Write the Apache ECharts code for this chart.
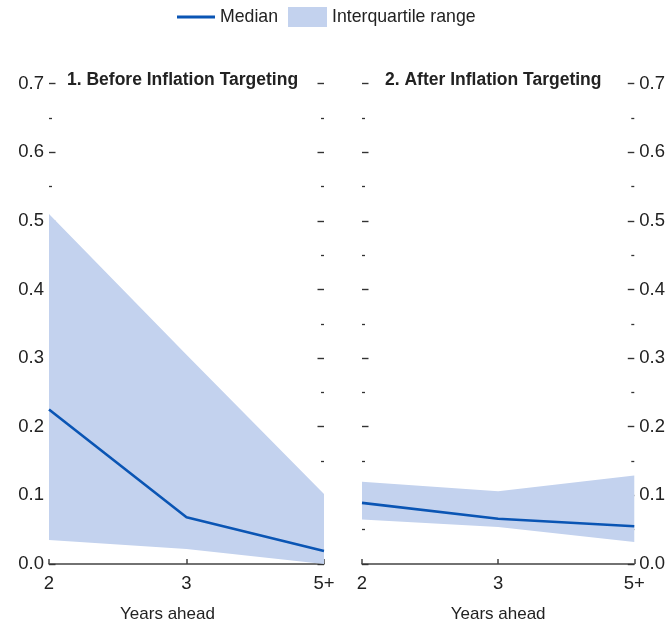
<!DOCTYPE html>
<html>
<head>
<meta charset="utf-8">
<script src="https://cdn.jsdelivr.net/npm/echarts@6/dist/echarts.min.js"></script>
<style>
html,body{margin:0;padding:0;background:#fff;}
#chart{width:668px;height:630px;}
</style>
</head>
<body>
<div id="chart"></div>
<script>
const categories = ['2', '3', '5+'];
const yTickValues = [0, 0.1, 0.2, 0.3, 0.4, 0.5, 0.6, 0.7];
const panelTitles = ['1. Before Inflation Targeting', '2. After Inflation Targeting'];
const beforeLower = [0.035, 0.022, 0.0];
const beforeUpper = [0.51, 0.305, 0.102];
const beforeMedian = [0.225, 0.068, 0.019];
const afterLower = [0.065, 0.054, 0.032];
const afterUpper = [0.120, 0.106, 0.129];
const afterMedian = [0.089, 0.066, 0.055];

const FONT = '"Liberation Sans", Arial, sans-serif';
const BAND = '#c3d2ee';
const LINE = '#0a55b4';
const AX = '#444';
const TXT = '#222';

const chart = echarts.init(document.getElementById('chart'), null, {renderer: 'canvas'});

function xAxis(gi, namePad) {
  return {
    type: 'category', gridIndex: gi, data: categories, boundaryGap: false,
    axisLine: {lineStyle: {color: AX, width: 1.5}},
    axisTick: {inside: true, length: 5, lineStyle: {color: AX, width: 1.5}, alignWithLabel: true},
    axisLabel: {color: TXT, fontSize: 18.5, fontFamily: FONT, margin: 10, showMinLabel: true, showMaxLabel: true, interval: 0},
    name: 'Years ahead', nameLocation: 'middle', nameGap: 42,
    nameTextStyle: {color: TXT, fontSize: 17, fontFamily: FONT, padding: namePad},
    splitLine: {show: false}
  };
}
function yAxis(gi, pos, labels) {
  return {
    type: 'value', gridIndex: gi, position: pos,
    min: yTickValues[0], max: yTickValues[yTickValues.length - 1], interval: 0.1,
    axisLine: {show: false},
    axisTick: {show: true, inside: true, length: 6.5, lineStyle: {color: '#333', width: 1.4}},
    minorTick: {show: true, splitNumber: 2, length: 3, lineStyle: {color: '#333', width: 1.3}},
    axisLabel: {show: labels, color: TXT, fontSize: 18.5, fontFamily: FONT, margin: 5,
      formatter: v => v.toFixed(1)},
    splitLine: {show: false}, minorSplitLine: {show: false}
  };
}
function bandSeries(xi, yi, stack, lower, upper, median) {
  return [
    {type: 'line', xAxisIndex: xi, yAxisIndex: yi, stack: stack, data: lower,
     symbol: 'none', silent: true, lineStyle: {width: 0, opacity: 0}, z: 1},
    {type: 'line', name: 'Interquartile range', xAxisIndex: xi, yAxisIndex: yi, stack: stack,
     data: upper.map((u, i) => u - lower[i]), symbol: 'none', silent: true,
     itemStyle: {color: BAND}, lineStyle: {width: 0, opacity: 0},
     areaStyle: {color: BAND, opacity: 1}, z: 1},
    {type: 'line', name: 'Median', xAxisIndex: xi, yAxisIndex: yi, data: median,
     symbol: 'none', itemStyle: {color: LINE}, lineStyle: {color: LINE, width: 2.6}, z: 5}
  ];
}

const option = {
  animation: false,
  backgroundColor: '#fff',
  textStyle: {fontFamily: FONT},
  title: [
    {text: panelTitles[0], left: 67, top: 71, padding: 0, textStyle: {fontFamily: FONT, fontSize: 17.5, fontWeight: 'bold', color: TXT}},
    {text: panelTitles[1], left: 385, top: 71, padding: 0, textStyle: {fontFamily: FONT, fontSize: 17.5, fontWeight: 'bold', color: TXT}}
  ],
  legend: [
    {data: ['Median'], left: 177, top: 8, icon: 'rect', itemWidth: 38, itemHeight: 3,
     textStyle: {fontFamily: FONT, fontSize: 17.7, color: TXT}, padding: 0},
    {data: ['Interquartile range'], left: 288, top: 7, icon: 'rect', itemWidth: 39, itemHeight: 20,
     textStyle: {fontFamily: FONT, fontSize: 17.7, color: TXT}, padding: 0}
  ],
  grid: [
    {left: 49, top: 83.5, width: 275, height: 480.5, containLabel: false},
    {left: 362, top: 83.5, width: 274, height: 480.5, containLabel: false}
  ],
  xAxis: [xAxis(0, [0, 38, 0, 0]), xAxis(1, 0)],
  yAxis: [yAxis(0, 'left', true), yAxis(0, 'right', false), yAxis(1, 'left', false), yAxis(1, 'right', true)],
  series: [
    ...bandSeries(0, 0, 'before', beforeLower, beforeUpper, beforeMedian),
    ...bandSeries(1, 3, 'after', afterLower, afterUpper, afterMedian)
  ]
};
chart.setOption(option);
</script>
</body>
</html>
